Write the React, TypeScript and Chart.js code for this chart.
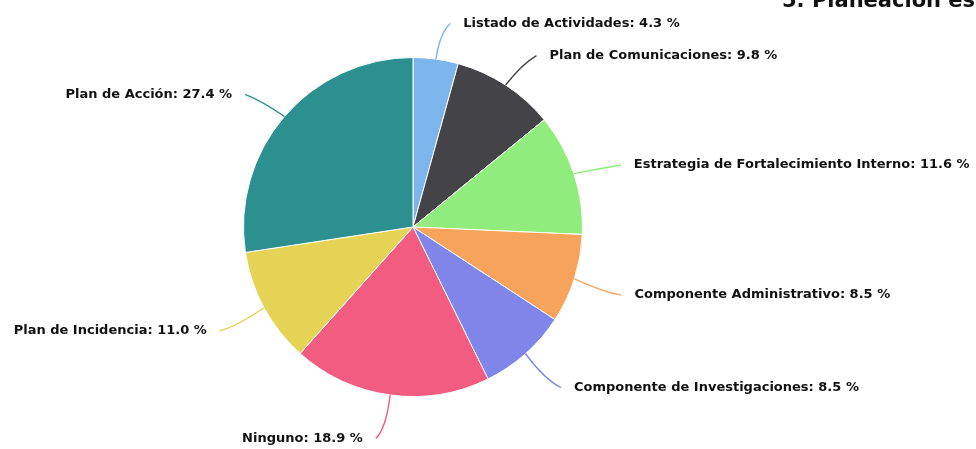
import React, { useEffect, useRef } from "react";
import { Chart, registerables } from "chart.js";

Chart.register(...registerables);

const categories = [
  "Listado de Actividades",
  "Plan de Comunicaciones",
  "Estrategia de Fortalecimiento Interno",
  "Componente Administrativo",
  "Componente de Investigaciones",
  "Ninguno",
  "Plan de Incidencia",
  "Plan de Acción",
];
const values = [4.3, 9.8, 11.6, 8.5, 8.5, 18.9, 11.0, 27.4];
const colors = [
  "#7cb5ec",
  "#434348",
  "#90ed7d",
  "#f7a35c",
  "#8085e9",
  "#f15c80",
  "#e4d354",
  "#2b908f",
];
const titleText = "5. Planeación es";

const LABEL_DISTANCE = 40;
const LABEL_PAD = 22;
const LABEL_DY = 4;

const labelPlugin = {
  id: "pieLabels",
  afterDraw(chart: any) {
    const ctx = chart.ctx;
    const meta = chart.getDatasetMeta(0);
    ctx.save();
    meta.data.forEach((arc: any, i: number) => {
      const { x, y, startAngle, endAngle, outerRadius } = arc.getProps(
        ["x", "y", "startAngle", "endAngle", "outerRadius"],
        true
      );
      const mid = (startAngle + endAngle) / 2;
      const cos = Math.cos(mid);
      const sin = Math.sin(mid);
      const ex = x + cos * outerRadius;
      const ey = y + sin * outerRadius;
      const R2 = outerRadius + LABEL_DISTANCE;
      const ax = x + cos * R2;
      const ay = y + sin * R2 + LABEL_DY;
      const right = cos >= 0;
      const endX = ax + (right ? 9 : -9);
      ctx.beginPath();
      ctx.moveTo(ex, ey);
      ctx.quadraticCurveTo(
        x + cos * (outerRadius + LABEL_DISTANCE * 0.75),
        y + sin * (outerRadius + LABEL_DISTANCE * 0.75) + LABEL_DY,
        endX,
        ay
      );
      ctx.strokeStyle = colors[i];
      ctx.lineWidth = 1.4;
      ctx.stroke();

      const text = `${categories[i]}: ${values[i].toFixed(1)} %`;
      ctx.font = "bold 13px 'DejaVu Sans', sans-serif";
      ctx.textBaseline = "middle";
      ctx.textAlign = right ? "left" : "right";
      ctx.lineJoin = "round";
      ctx.lineWidth = 2;
      ctx.strokeStyle = "#ffffff";
      const tx = ax + (right ? LABEL_PAD : -LABEL_PAD);
      ctx.strokeText(text, tx, ay);
      ctx.fillStyle = "#111111";
      ctx.fillText(text, tx, ay);
    });
    ctx.font = "bold 21px 'DejaVu Sans', sans-serif";
    ctx.textAlign = "left";
    ctx.textBaseline = "alphabetic";
    ctx.fillStyle = "#111111";
    ctx.fillText(titleText, 782, 7);
    ctx.restore();
  },
};

export default function App() {
  const ref = useRef<HTMLCanvasElement | null>(null);
  useEffect(() => {
    if (!ref.current) return;
    const chart = new Chart(ref.current, {
      type: "pie",
      data: {
        labels: categories,
        datasets: [
          {
            data: values,
            backgroundColor: colors,
            borderColor: "#ffffff",
            borderWidth: 1,
          },
        ],
      },
      options: {
        animation: false,
        responsive: false,
        maintainAspectRatio: false,
        layout: { padding: { left: 243, right: 393, top: 57, bottom: 52 } },
        plugins: {
          legend: { display: false },
          title: { display: false },
          tooltip: { enabled: false },
        },
      },
      plugins: [labelPlugin],
    });
    return () => chart.destroy();
  }, []);
  return (
    <div style={{ position: "fixed", left: 0, top: 0, width: 976, height: 449, background: "#fff" }}>
      <canvas ref={ref} width={976} height={449} style={{ width: 976, height: 449 }} />
    </div>
  );
}
